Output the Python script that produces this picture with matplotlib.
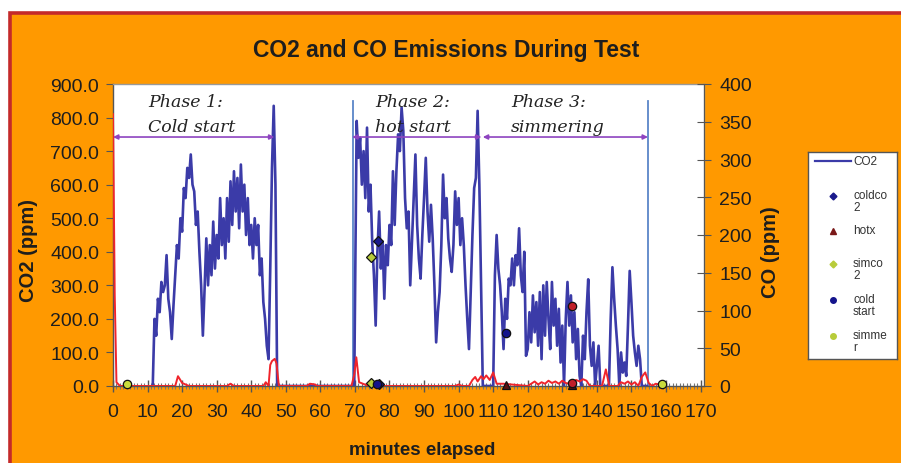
import numpy as np
import matplotlib
matplotlib.use("Agg")
import matplotlib.pyplot as plt
from matplotlib.patches import Rectangle

plt.rcParams["font.family"] = ["Liberation Sans", "DejaVu Sans"]

# ---- data --------------------------------------------------------------
# CO2 (ppm), left axis, sampled every 0.5 min inside each burning phase
t_p1 = np.arange(11.5, 48.0, 0.5)
co2_p1 = [0, 200, 150, 260, 220, 310, 280, 300, 390, 260, 220, 140, 240, 330,
          420, 380, 500, 460, 590, 560, 650, 620, 690, 600, 580, 480, 520, 400,
          300, 150, 290, 440, 300, 420, 330, 490, 350, 450, 380, 560, 420, 500,
          380, 560, 430, 610, 480, 640, 520, 620, 470, 660, 520, 600, 450, 560,
          420, 480, 380, 500, 420, 480, 330, 380, 250, 200, 120, 80, 350, 650,
          835, 600, 0]

t_p2 = np.arange(70.0, 108.0, 0.5)
co2_p2 = [0, 790, 680, 740, 600, 700, 560, 770, 520, 600, 430, 330, 180, 400,
          520, 350, 430, 260, 420, 360, 480, 420, 640, 480, 640, 750, 700, 830,
          760, 560, 470, 520, 300, 430, 560, 690, 480, 380, 320, 450, 560, 680,
          520, 430, 540, 440, 300, 130, 220, 280, 420, 630, 500, 560, 440, 380,
          340, 420, 580, 480, 560, 420, 500, 420, 300, 200, 110, 280, 450, 590,
          620, 820, 600, 300, 0, 0]

t_p3 = np.arange(110.0, 155.0, 0.5)
co2_p3 = [0, 330, 450, 350, 300, 220, 110, 260, 200, 320, 300, 380, 300, 390,
          360, 470, 330, 280, 400, 90, 110, 220, 130, 270, 160, 250, 120, 280,
          80, 300, 150, 310, 200, 110, 310, 180, 260, 120, 230, 70, 180, 0, 200,
          310, 180, 270, 130, 220, 80, 170, 30, 0, 150, 80, 220, 318, 120, 60,
          130, 0, 60, 120, 0, 0, 0, 0, 0, 0, 200, 354, 260, 180, 110, 0, 100, 40,
          70, 30, 180, 343, 250, 150, 100, 60, 120, 80, 0, 0, 0, 0]

# CO (ppm), right axis
t_co = [0, 0.5, 1, 2, 18, 18.8, 20, 22, 33, 34, 35, 43.5, 44.2, 45, 45.5, 46,
        46.8, 47.3, 48, 56, 57, 58.5, 59, 69, 69.8, 70.4, 71.2, 74, 75.5, 77, 78,
        99, 100, 101, 103, 104, 104.8, 105.5, 106.5, 107.2, 108, 109, 110,
        111, 113, 120, 121, 122, 123, 124, 125, 126, 127, 128, 129, 130, 131,
        132, 133, 134, 135, 136, 137, 138, 141.5, 142.6, 143.6, 146, 147, 148,
        149, 150, 151, 152, 153, 154, 155, 156, 157, 158, 159]
co = [360, 120, 5, 0, 0, 13, 4, 0, 0, 3, 0, 0, 5, 0, 28, 33, 36, 30, 0, 0, 3,
      2, 0, 0, 15, 38, 5, 0, 3, 4, 0, 0, 2, 0, 0, 8, 12, 6, 13, 9, 14, 8, 18,
      3, 3, 0, 3, 6, 2, 5, 3, 7, 4, 6, 3, 7, 4, 3, 5, 8, 6, 9, 7, 0, 0, 22, 0,
      0, 5, 3, 6, 2, 5, 0, 12, 18, 4, 0, 3, 2, 0]

# phase markers
phase_names = ["Phase 1:\nCold start", "Phase 2:\nhot start", "Phase 3:\nsimmering"]
phase_bounds = [(0, 46.7), (69.2, 106.6), (107.0, 154.8)]
phase_text_x = [10.1, 75.9, 115.1]
phase_lines = [69.3, 154.8]

# point series (CO axis)
coldco2_t, coldco2_v = [76.7, 76.9], [192, 2]
hotx_t, hotx_v = [113.8, 132.8], [1, 1]
simco2_t, simco2_v = [74.6, 74.6], [171, 4]
coldstart_t, coldstart_v = [113.8, 76.3], [70, 3]
simmer_t, simmer_v = [158.9, 4.0], [2, 2]
hot_t, hot_v = [132.8, 132.8], [106, 4]

# ---- figure ------------------------------------------------------------
W, H = 901, 464
fig = plt.figure(figsize=(W / 100, H / 100), dpi=100)
fig.patch.set_facecolor("white")
fig.add_artist(Rectangle((10 / W, -0.05), 1.0, (H - 14) / H + 0.05,
                         transform=fig.transFigure, facecolor="#FF9900",
                         edgecolor="#C42A2A", linewidth=2.6, zorder=-5))

ink = "#1E1E1E"
ax = fig.add_axes([113 / W, 1 - 387 / H, (704 - 113) / W, (387 - 85) / H])
ax.set_facecolor("white")
ax2 = ax.twinx()

ax.plot(np.concatenate([t_p1, [69.8], t_p2[1:], [108.5], t_p3]),
        np.concatenate([co2_p1, [0], co2_p2[1:], [0], co2_p3]),
        color="#3B3BA8", lw=1.9, zorder=3)
ax2.plot(t_co, co, color="#F0242B", lw=1.4, zorder=2)

for x in phase_lines:
    ax.plot([x, x], [0, 850], color="#5B86C8", lw=1.3, zorder=2)

for a, b in phase_bounds:
    ax.annotate("", xy=(a, 742), xytext=(b, 742),
                arrowprops=dict(arrowstyle="<|-|>", color="#8E44C0", lw=1.2,
                                mutation_scale=7, shrinkA=0, shrinkB=0))
for name, x in zip(phase_names, phase_text_x):
    ax.text(x, 872, name, fontfamily="DejaVu Serif", fontstyle="italic",
            fontsize=12.5, va="top", ha="left", color="#222222",
            linespacing=1.6, zorder=4)

mk = dict(ls="none", markeredgecolor="#111111", markeredgewidth=0.9, zorder=6,
          clip_on=False)
ax2.plot(coldco2_t, coldco2_v, marker="D", ms=5, color="#1A1A8C", **mk)
ax2.plot(hotx_t, hotx_v, marker="^", ms=6, color="#5A1010", **mk)
ax2.plot(simco2_t, simco2_v, marker="D", ms=5, color="#B8CC3A", **mk)
ax2.plot(coldstart_t, coldstart_v, marker="o", ms=6, color="#14148C", **mk)
ax2.plot(simmer_t, simmer_v, marker="o", ms=6, color="#C8DC3C", **mk)
ax2.plot(hot_t, hot_v, marker="o", ms=6, color="#C0202A", **mk)

ax.set_xlim(0, 171)
ax.set_ylim(0, 900)
ax2.set_ylim(0, 400)
ax.set_xticks(np.arange(0, 171, 10))
ax.set_xticks(np.arange(0, 171, 1), minor=True)
ax.set_yticks(np.arange(0, 901, 100))
ax.set_yticklabels([f"{v:.1f}" for v in np.arange(0, 901, 100)])
ax2.set_yticks(np.arange(0, 401, 50))

ax.tick_params(axis="x", which="major", direction="inout", length=8, width=1,
               color="#555555", labelsize=14, labelcolor=ink, pad=8)
ax.tick_params(axis="x", which="minor", direction="inout", length=4,
               width=0.8, color="#777777")
ax.tick_params(axis="y", direction="out", length=5, color="#555555",
               labelsize=14, labelcolor=ink, pad=5)
ax2.tick_params(axis="y", direction="inout", length=10, color="#555555",
                labelsize=14, labelcolor=ink, pad=6)
for s in ax.spines.values():
    s.set_color("#999999")
    s.set_linewidth(1.0)
ax.spines["left"].set_color("#555555")
ax.spines["bottom"].set_color("#555555")
for s in ax2.spines.values():
    s.set_visible(False)
ax2.spines["right"].set_visible(True)
ax2.spines["right"].set_color("#555555")

fig.text(446 / W, 1 - 50 / H, "CO2 and CO Emissions During Test",
         ha="center", va="center", fontsize=16.5, fontweight="bold", color=ink)
fig.text(28 / W, 1 - 251 / H, "CO2 (ppm)", rotation=90, ha="center",
         va="center", fontsize=14.5, fontweight="bold", color=ink)
fig.text(771 / W, 1 - 252 / H, "CO (ppm)", rotation=90, ha="center",
         va="center", fontsize=14.5, fontweight="bold", color=ink)
fig.text(422 / W, 1 - 451 / H, "minutes elapsed", ha="center", va="center",
         fontsize=13.5, fontweight="bold", color=ink)

# legend drawn as its own small panel
lg = fig.add_axes([808 / W, 1 - 360 / H, 89 / W, 207 / H])
lg.set_xlim(808, 897)
lg.set_ylim(360, 153)
lg.set_xticks([])
lg.set_yticks([])
for s in lg.spines.values():
    s.set_color("#555555")
    s.set_linewidth(1.0)
lg.plot([815, 851], [162, 162], color="#3B3BA8", lw=1.6)
lg.text(853, 162, "CO2", fontsize=8.5, va="center", ha="left", color="#333333")
entries = [("coldco\n2", 197, "D", "#1A1A8C", 3.5),
           ("hotx", 232, "^", "#7A1818", 4.5),
           ("simco\n2", 265, "D", "#B8CC3A", 3.5),
           ("cold\nstart", 301, "o", "#14148C", 4),
           ("simme\nr", 337, "o", "#B8CC3A", 4)]
for label, y, m, c, s in entries:
    lg.plot([833], [y], marker=m, ms=s, color=c, ls="none")
    lg.text(853, y - 7, label, fontsize=8.5, va="top", ha="left",
            color="#333333", linespacing=1.05)

fig.savefig("out.png", dpi=100)
